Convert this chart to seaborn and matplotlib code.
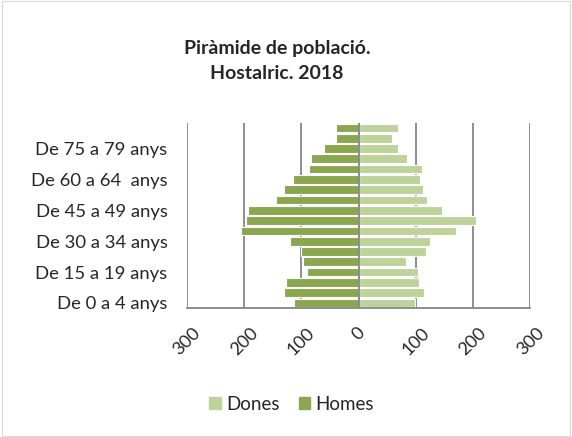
import numpy as np
import pandas as pd
import matplotlib
matplotlib.use("Agg")
import matplotlib.pyplot as plt
import seaborn as sns
from matplotlib.patches import Patch

sns.set_style("white")
plt.rcParams['font.family'] = ['Lato', 'DejaVu Sans']

# Data (from 0-4 up to 85+)
edats = ["De 0 a 4 anys", "De 5 a 9 anys", "De 10 a 14 anys", "De 15 a 19 anys",
         "De 20 a 24 anys", "De 25 a 29 anys", "De 30 a 34 anys", "De 35 a 39 anys",
         "De 40 a 44 anys", "De 45 a 49 anys", "De 50 a 54 anys", "De 55 a 59 anys",
         "De 60 a 64  anys", "De 65 a 69 anys", "De 70 a 74 anys", "De 75 a 79 anys",
         "De 80 a 84 anys", "De 85 anys i més"]
homes = [113, 130, 127, 91, 97, 101, 120, 206, 197, 193, 145, 131, 115, 87, 83, 60, 40, 39]
dones = [99, 114, 105, 103, 82, 118, 124, 170, 206, 145, 119, 113, 108, 110, 84, 69, 59, 69]
xticks = [-300, -200, -100, 0, 100, 200, 300]

c_dones = "#bdd39a"
c_homes = "#8aa64f"

df = pd.DataFrame({
    "edat": edats * 2,
    "valor": [-h for h in homes] + dones,
    "sexe": ["Homes"] * len(edats) + ["Dones"] * len(edats),
})
order = edats[::-1]

fig = plt.figure(figsize=(5.72, 4.37), dpi=100)
ax = fig.add_axes([0.327, 0.295, 0.6, 0.424])

sns.barplot(data=df, x="valor", y="edat", hue="sexe", order=order,
            hue_order=["Dones", "Homes"], palette=[c_dones, c_homes],
            saturation=1, dodge=False, width=0.85, orient="h", ax=ax,
            edgecolor="white", linewidth=0.8, legend=False)

ax.set_xlim(-300, 300)
ax.set_xticks(xticks)
ax.set_xticklabels([str(abs(v)) for v in xticks], rotation=45, fontsize=13)
for lbl in ax.get_xticklabels():
    lbl.set_ha("center")
ax.tick_params(axis="x", pad=12, length=0)

pos = [order.index(edats[i]) for i in range(0, 18, 3)]
ax.set_yticks(pos)
ax.set_yticklabels([edats[i] for i in range(0, 18, 3)], fontsize=13.3)
ax.tick_params(axis="y", length=0, pad=14)
ax.set_ylim(17.5, -0.5)

for v in xticks:
    ax.axvline(v, color="#868686", lw=1.3, zorder=0)
ax.set_axisbelow(True)
ax.axvline(0, color="#868686", lw=1.3, zorder=3)

for s in ["top", "left", "right"]:
    ax.spines[s].set_visible(False)
ax.spines["bottom"].set_color("#868686")
ax.spines["bottom"].set_linewidth(1.3)
ax.set_xlabel("")
ax.set_ylabel("")

fig.text(0.484, 0.86, "Piràmide de població.\nHostalric. 2018", ha="center", va="center",
         fontsize=14, fontweight="bold", linespacing=1.6)

handles = [Patch(color=c_dones, label="Dones"), Patch(color=c_homes, label="Homes")]
fig.legend(handles=handles, loc="center", bbox_to_anchor=(0.51, 0.075), ncol=2,
           frameon=False, fontsize=13.5, handlelength=0.6, handleheight=0.6,
           handletextpad=0.3, columnspacing=1.0)

fig.patches.append(plt.Rectangle((0.003, 0.003), 0.994, 0.994, transform=fig.transFigure,
                                 fill=False, edgecolor="#d9d9d9", lw=0.8))

fig.savefig("out.png", dpi=100)
